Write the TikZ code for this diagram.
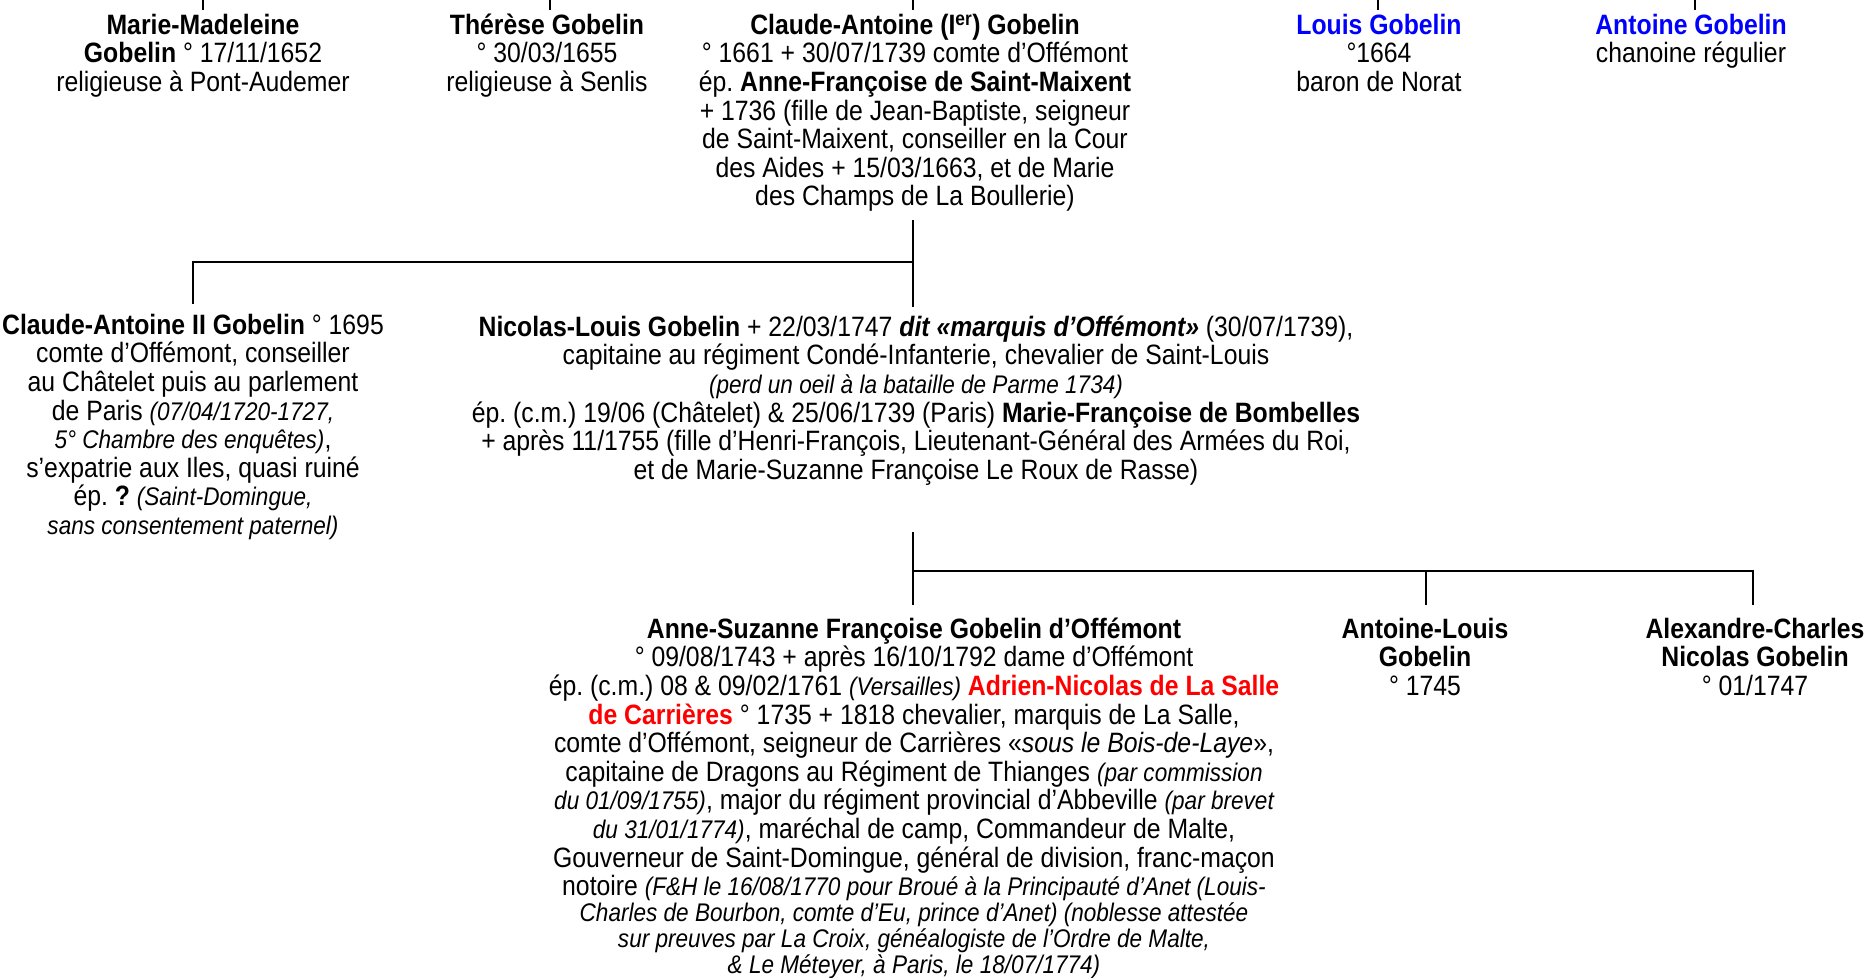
\documentclass[tikz,border=0pt]{standalone}
\usepackage{fontspec}
\setmainfont{Liberation Sans}[FakeStretch=0.885]
\usepackage{xcolor}
\definecolor{pblue}{RGB}{0,0,255}
\definecolor{pred}{RGB}{255,0,0}
\newcommand\sit[1]{{\fontsize{25.5}{28.6}\selectfont\itshape #1}}
\newcommand\fl{\rule{0pt}{27pt}}
\frenchspacing
\begin{document}
\begin{tikzpicture}[x=1pt,y=-1pt,
  person/.style={align=center, inner sep=0pt, anchor=north, font=\fontsize{28}{28.6}\selectfont\frenchspacing},
  link/.style={line width=2.6pt}]
\useasboundingbox (0,0) rectangle (1868,977);

% top row
\node[person] (mm) at (203,7) {\fl\textbf{Marie-Madeleine}\\ \textbf{Gobelin} ° 17/11/1652\\ religieuse à Pont-Audemer};
\node[person] (th) at (547,7) {\fl\textbf{Thérèse Gobelin}\\ ° 30/03/1655\\ religieuse à Senlis};
\node[person] (ca) at (915,7) {\fl\textbf{Claude-Antoine (I\textsuperscript{er}) Gobelin}\\ ° 1661 + 30/07/1739 comte d’Offémont\\ ép. \textbf{Anne-Françoise de Saint-Maixent}\\ + 1736 (fille de Jean-Baptiste, seigneur\\ de Saint-Maixent, conseiller en la Cour\\ des Aides + 15/03/1663, et de Marie\\ des Champs de La Boullerie)};
\node[person, text=pblue] (lo) at (1379,7) {\fl\textbf{Louis Gobelin}\\ \color{black}°1664\\ \color{black}baron de Norat};
\node[person, text=pblue] (an) at (1691,7) {\fl\textbf{Antoine Gobelin}\\ \color{black}chanoine régulier};

% stubs at top
\coordinate (mmT) at (203,0); \coordinate (thT) at (550,0); \coordinate (caT) at (913,0);
\coordinate (loT) at (1378,0); \coordinate (anT) at (1695,0);
\foreach \c in {mmT,thT,caT,loT,anT} \draw[link] (\c) -- ++(0,10);

% second row
\node[person] (ca2) at (193,307) {\fl\textbf{Claude-Antoine II Gobelin} ° 1695\\ comte d’Offémont, conseiller\\ au Châtelet puis au parlement\\ de Paris \sit{(07/04/1720-1727,}\\ \sit{5° Chambre des enquêtes)},\\ s’expatrie aux Iles, quasi ruiné\\ ép. \textbf{?} \sit{(Saint-Domingue,}\\ \sit{sans consentement paternel)}};
\node[person] (nl) at (916,309) {\fl\textbf{Nicolas-Louis Gobelin} + 22/03/1747 \textbf{\itshape dit «marquis d’Offémont»} (30/07/1739),\\ capitaine au régiment Condé-Infanterie, chevalier de Saint-Louis\\ \sit{(perd un oeil à la bataille de Parme 1734)}\\ ép. (c.m.) 19/06 (Châtelet) \& 25/06/1739 (Paris) \textbf{Marie-Françoise de Bombelles}\\ + après 11/1755 (fille d’Henri-François, Lieutenant-Général des Armées du Roi,\\ et de Marie-Suzanne Françoise Le Roux de Rasse)};

% third row
\node[person] (as) at (914,611) {\fl\textbf{Anne-Suzanne Françoise Gobelin d’Offémont}\\
° 09/08/1743 + après 16/10/1792 dame d’Offémont\\
ép. (c.m.) 08 \& 09/02/1761 \sit{(Versailles)} \textcolor{pred}{\textbf{Adrien-Nicolas de La Salle}}\\
\textcolor{pred}{\textbf{de Carrières}} ° 1735 + 1818 chevalier, marquis de La Salle,\\
comte d’Offémont, seigneur de Carrières «\textit{sous le Bois-de-Laye}»,\\
capitaine de Dragons au Régiment de Thianges \sit{(par commission}\\
\sit{du 01/09/1755)}, major du régiment provincial d’Abbeville \sit{(par brevet}\\
\sit{du 31/01/1774)}, maréchal de camp, Commandeur de Malte,\\
Gouverneur de Saint-Domingue, général de division, franc-maçon\\
notoire \sit{(F\&H le 16/08/1770 pour Broué à la Principauté d’Anet (Louis-}\\[-2.7pt]
\sit{Charles de Bourbon, comte d’Eu, prince d’Anet) (noblesse attestée}\\[-2.7pt]
\sit{sur preuves par La Croix, généalogiste de l’Ordre de Malte,}\\[-2.7pt]
\sit{\& Le Méteyer, à Paris, le 18/07/1774)}};
\node[person] (al) at (1425,611) {\fl\textbf{Antoine-Louis}\\ \textbf{Gobelin}\\ ° 1745};
\node[person] (ac) at (1755,611) {\fl\textbf{Alexandre-Charles}\\ \textbf{Nicolas Gobelin}\\ ° 01/1747};

% connectors
\coordinate (caB) at (913,220);
\coordinate (nlT) at (913,307);
\coordinate (j1) at (913,262);
\coordinate (ca2T) at (193,304);
\coordinate (nlB) at (913,532);
\coordinate (asT) at (913,605);
\coordinate (j2) at (913,571);
\coordinate (alT) at (1426,605);
\coordinate (acT) at (1753,605);

\draw[link] (caB) -- (nlT);
\draw[link] (j1) -| (ca2T);
\draw[link] (nlB) -- (asT);
\draw[link] (j2) -| (acT);
\draw[link] (alT) -- (alT |- j2);
\end{tikzpicture}
\end{document}
